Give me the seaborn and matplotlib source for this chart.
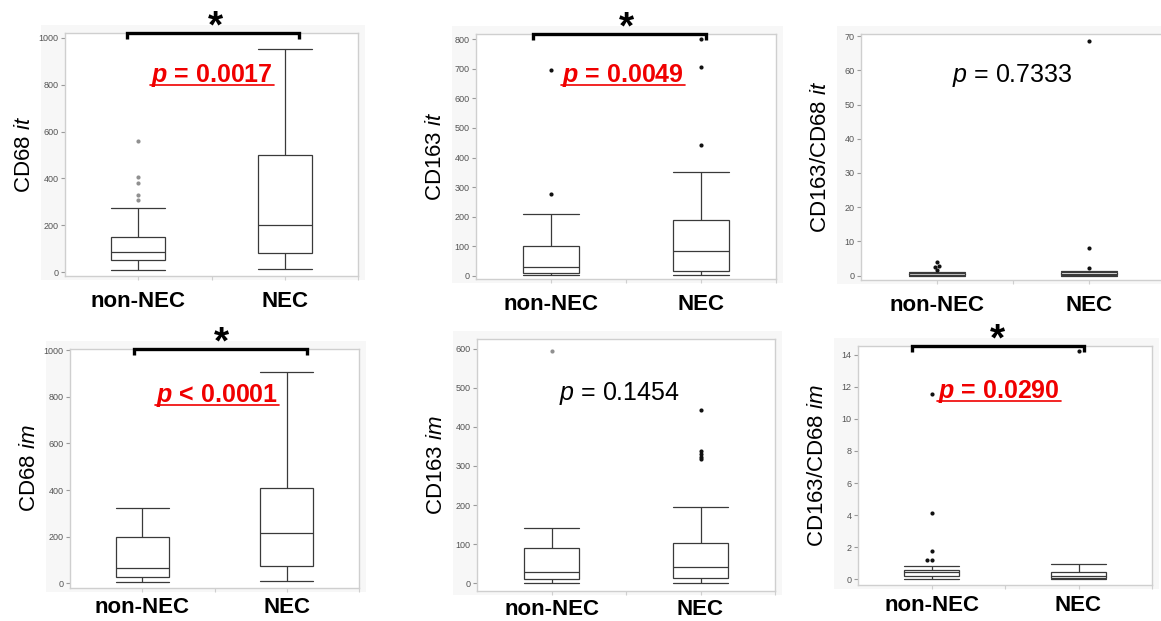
import matplotlib
matplotlib.use("Agg")
import matplotlib.pyplot as plt
import matplotlib.transforms as mtransforms
from matplotlib.patches import Rectangle
from matplotlib.lines import Line2D
from matplotlib.ticker import FixedLocator
import pandas as pd
import seaborn as sns

W, H = 1161, 621

groups = ["non-NEC", "NEC"]

# Box summaries: [lower whisker, Q1, median, Q3, upper whisker]
cd68_it_box_non = [10, 53, 85, 150, 273]
cd68_it_box_nec = [13, 83, 199, 501, 953]
cd68_it_out_non = [561, 405, 380, 330, 309]
cd68_it_out_nec = []

cd163_it_box_non = [1, 10, 30, 100, 208]
cd163_it_box_nec = [1, 17, 84, 188, 350]
cd163_it_out_non = [697, 275]
cd163_it_out_nec = [800, 707, 442]

ratio_it_box_non = [0.0, 0.1, 0.3, 0.8, 1.2]
ratio_it_box_nec = [0.0, 0.1, 0.4, 1.0, 1.5]
ratio_it_out_non = [4.0, 2.9, 2.6, 1.6]
ratio_it_out_nec = [68.7, 8.2, 2.1]

cd68_im_box_non = [4, 26, 67, 199, 323]
cd68_im_box_nec = [11, 73, 218, 408, 907]
cd68_im_out_non = []
cd68_im_out_nec = []

cd163_im_box_non = [0, 10, 28, 91, 142]
cd163_im_box_nec = [0, 14, 42, 104, 194]
cd163_im_out_non = [595]
cd163_im_out_nec = [442, 339, 331, 324, 318]

ratio_im_box_non = [0.0, 0.23, 0.44, 0.58, 0.85]
ratio_im_box_nec = [0.0, 0.10, 0.23, 0.44, 0.96]
ratio_im_out_non = [11.55, 4.11, 1.74, 1.2, 1.2]
ratio_im_out_nec = [14.25]

y_labels = [r"CD68 $\it{it}$", r"CD163 $\it{it}$", r"CD163/CD68 $\it{it}$",
            r"CD68 $\it{im}$", r"CD163 $\it{im}$", r"CD163/CD68 $\it{im}$"]
p_values = ["= 0.0017", "= 0.0049", "= 0.7333", "< 0.0001", "= 0.1454", "= 0.0290"]
p_significant = [True, True, False, True, False, True]
y_ticks = [[0, 200, 400, 600, 800, 1000],
           [0, 100, 200, 300, 400, 500, 600, 700, 800],
           [0, 10, 20, 30, 40, 50, 60, 70],
           [0, 200, 400, 600, 800, 1000],
           [0, 100, 200, 300, 400, 500, 600],
           [0, 2, 4, 6, 8, 10, 12, 14]]
y_limits = [(-17, 1021), (-11, 818), (-1.26, 70.6),
            (-20, 1005), (-20, 625), (-0.36, 14.55)]

panels_data = [
    (cd68_it_box_non, cd68_it_box_nec, cd68_it_out_non, cd68_it_out_nec),
    (cd163_it_box_non, cd163_it_box_nec, cd163_it_out_non, cd163_it_out_nec),
    (ratio_it_box_non, ratio_it_box_nec, ratio_it_out_non, ratio_it_out_nec),
    (cd68_im_box_non, cd68_im_box_nec, cd68_im_out_non, cd68_im_out_nec),
    (cd163_im_box_non, cd163_im_box_nec, cd163_im_out_non, cd163_im_out_nec),
    (ratio_im_box_non, ratio_im_box_nec, ratio_im_out_non, ratio_im_out_nec),
]

# ---- layout / style (pixels) ----
rects = [(65, 33, 358, 276), (476, 34, 776, 279), (861, 34, 1165, 280),
         (70, 349, 359, 588), (477, 339, 775, 591), (858, 346, 1152, 585)]
xlabel_pad = [8, 8, 8, 3.5, 2.5, 4.5]
p_pos = [(212, 82), (623, 82), (1012, 82), (217, 402), (619, 400), (999, 398)]
out_colors = [("#909090", "#111111"), ("#111111", "#111111"), ("#111111", "#111111"),
              ("#111111", "#111111"), ("#909090", "#111111"), ("#111111", "#111111")]
use_swarm = [False, False, True, False, False, True]
brackets = [(-0.075, 1.10, 0.524), (-0.12, 1.03, 0.50), None,
            (-0.06, 1.14, 0.55), None, (-0.13, 1.04, 0.45)]

sns.set_style("white")
plt.rcParams["font.family"] = ["Liberation Sans", "DejaVu Sans"]
plt.rcParams["mathtext.fontset"] = "custom"
plt.rcParams["mathtext.rm"] = "Liberation Sans"
plt.rcParams["mathtext.it"] = "Liberation Sans:italic"
plt.rcParams["mathtext.bf"] = "Liberation Sans:bold"
plt.rcParams["mathtext.bfit"] = "Liberation Sans:italic:bold"

fig = plt.figure(figsize=(W / 100, H / 100), dpi=100)
fig.patch.set_facecolor("white")

RED = "#f00000"
p_texts = []

for i, (box_non, box_nec, out_non, out_nec) in enumerate(panels_data):
    l, t, r, b = rects[i]
    # light panel background like JMP output
    fig.add_artist(Rectangle(((l - 24) / W, 1 - (b + 4) / H), (r - l + 31) / W, (b - t + 12) / H,
                             transform=fig.transFigure, facecolor="#f7f7f7",
                             edgecolor="none", zorder=-5))
    ax = fig.add_axes([l / W, 1 - b / H, (r - l) / W, (b - t) / H])
    ax.set_facecolor("white")

    box_df = pd.DataFrame({"group": [groups[0]] * len(box_non) + [groups[1]] * len(box_nec),
                           "value": box_non + box_nec})
    sns.boxplot(data=box_df, x="group", y="value", order=groups, whis=(0, 100),
                width=0.37, color="white", linecolor="#3a3a3a", linewidth=0.9,
                showfliers=False, capwidths=0.37, ax=ax)

    for g, vals, col in ((groups[0], out_non, out_colors[i][0]),
                         (groups[1], out_nec, out_colors[i][1])):
        if not vals:
            continue
        odf = pd.DataFrame({"group": [g] * len(vals), "value": vals})
        if use_swarm[i]:
            sns.swarmplot(data=odf, x="group", y="value", order=groups, color=col,
                          size=3.0, linewidth=0, ax=ax)
        else:
            sns.stripplot(data=odf, x="group", y="value", order=groups, jitter=False,
                          color=col, size=3.0, linewidth=0, ax=ax)

    ax.set_xlim(-0.5, 1.5)
    ax.set_ylim(*y_limits[i])
    ax.set_yticks(y_ticks[i])
    ax.set_yticklabels([str(v) for v in y_ticks[i]])
    ax.xaxis.set_minor_locator(FixedLocator([0.5, 1.5]))
    ax.set_xlabel("")
    ax.set_ylabel(y_labels[i], fontsize=16, color="black")
    ax.yaxis.set_label_coords(-30 / (r - l), 0.5)

    for s in ax.spines.values():
        s.set_color("#cfcfcf")
        s.set_linewidth(1.0)
    ax.tick_params(axis="y", direction="out", length=3, width=0.8, color="#9a9a9a",
                   labelsize=6.5, labelcolor="#555555", pad=1.5, left=True)
    ax.tick_params(axis="x", which="both", direction="out", length=3, width=0.8,
                   color="#cfcfcf", bottom=True)
    ax.tick_params(axis="x", which="major", labelsize=16, pad=xlabel_pad[i],
                   labelcolor="black")
    for tl in ax.get_xticklabels():
        tl.set_fontweight("bold")

    # significance bracket and asterisk
    if brackets[i] is not None:
        x0, x1, xa = brackets[i]
        h = b - t
        trans = mtransforms.blended_transform_factory(ax.transData, ax.transAxes)
        yb = 1 + 0.5 / h
        yh = 1 - 5.5 / h
        ax.plot([x0, x0, x1, x1], [yh, yb, yb, yh], transform=trans, clip_on=False,
                color="black", lw=2.4, solid_joinstyle="miter", solid_capstyle="butt",
                zorder=10)
        ax.annotate("*", xy=(xa, 1), xycoords=trans, xytext=(0, -3),
                    textcoords="offset points", ha="center", va="baseline",
                    fontsize=28, fontweight="bold", color="black",
                    annotation_clip=False)

    # p-value text
    px, py = p_pos[i]
    if p_significant[i]:
        txt = fig.text(px / W, 1 - py / H, r"$\mathbfit{p}$ " + p_values[i],
                       ha="center", va="baseline", fontsize=18, fontweight="bold", color=RED)
    else:
        txt = fig.text(px / W, 1 - py / H, r"$\it{p}$ " + p_values[i],
                       ha="center", va="baseline", fontsize=18, color="black")
    p_texts.append((txt, py, p_significant[i]))

# underline significant p-values using their rendered extents
fig.canvas.draw()
renderer = fig.canvas.get_renderer()
for txt, py, sig in p_texts:
    if not sig:
        continue
    bb = txt.get_window_extent(renderer=renderer)
    yline = (H - (py + 2.5)) / H
    fig.add_artist(Line2D([(bb.x0 - 1) / W, (bb.x1 + 1) / W], [yline, yline],
                          transform=fig.transFigure, color=RED, lw=1.2))

fig.savefig("out.png", dpi=100, facecolor="white")
